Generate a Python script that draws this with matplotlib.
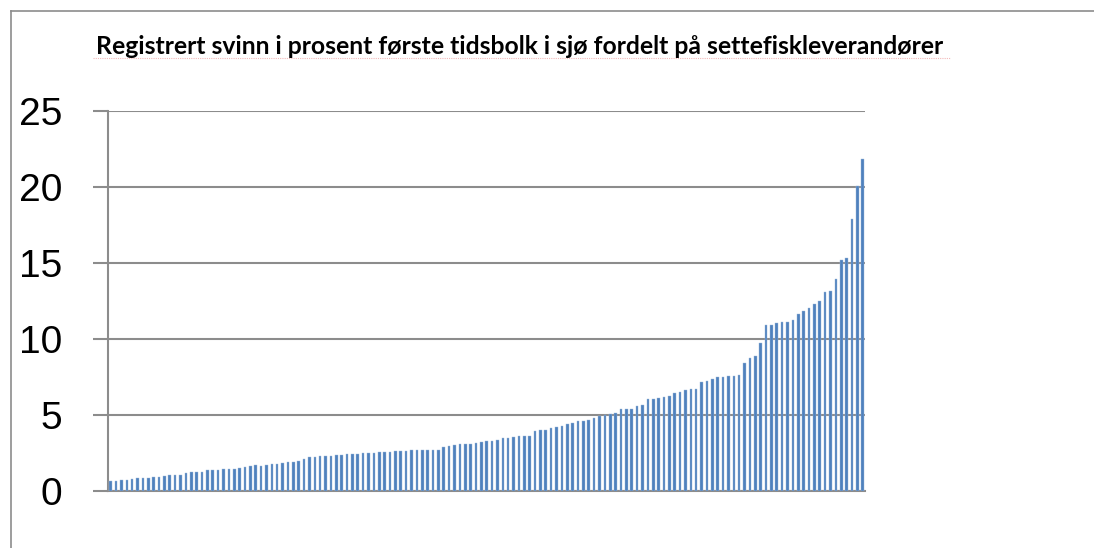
"""Registrert svinn (prosent) første tidsbolk i sjø, per settefiskleverandør.

Excel-style column chart: one thin bar per supplier, sorted ascending.
"""
import matplotlib
matplotlib.use("Agg")
import matplotlib.pyplot as plt
from matplotlib.lines import Line2D
import numpy as np

TITLE = "Registrert svinn i prosent første tidsbolk i sjø fordelt på settefiskleverandører"

# svinn i prosent, one value per supplier (sorted)
svinn_pct = [
    0.64, 0.64, 0.68, 0.70, 0.77, 0.81, 0.81, 0.86, 0.88, 0.90,
    0.94, 1.01, 1.03, 1.05, 1.14, 1.21, 1.23, 1.23, 1.34, 1.36,
    1.36, 1.40, 1.43, 1.45, 1.49, 1.54, 1.60, 1.67, 1.64, 1.69,
    1.73, 1.75, 1.82, 1.89, 1.89, 1.94, 2.10, 2.19, 2.21, 2.26,
    2.28, 2.28, 2.32, 2.37, 2.41, 2.41, 2.41, 2.46, 2.48, 2.50,
    2.52, 2.54, 2.54, 2.59, 2.59, 2.61, 2.65, 2.65, 2.65, 2.68,
    2.68, 2.68, 2.85, 2.94, 3.00, 3.07, 3.07, 3.09, 3.14, 3.20,
    3.24, 3.27, 3.36, 3.44, 3.49, 3.53, 3.57, 3.57, 3.62, 3.90,
    4.01, 4.01, 4.12, 4.19, 4.23, 4.41, 4.45, 4.56, 4.56, 4.67,
    4.80, 4.93, 4.98, 5.07, 5.11, 5.35, 5.39, 5.39, 5.55, 5.61,
    6.01, 6.07, 6.12, 6.14, 6.23, 6.40, 6.51, 6.60, 6.67, 6.67,
    7.17, 7.21, 7.37, 7.48, 7.50, 7.54, 7.57, 7.63, 8.38, 8.75,
    8.84, 9.71, 10.90, 10.90, 11.07, 11.14, 11.14, 11.23, 11.62, 11.84,
    12.00, 12.32, 12.50, 13.05, 13.18, 13.93, 15.18, 15.29, 17.92, 20.05,
    21.86,
]
y_ticks = [0, 5, 10, 15, 20, 25]

BAR_COLOR = "#4F81BD"
GRID_COLOR = "#8c8c8c"

W, H = 1094, 548
fig = plt.figure(figsize=(W / 100, H / 100), dpi=100)
fig.patch.set_facecolor("white")

# plot area in pixel coordinates of the original (x 108..865, y 111..491)
ax = fig.add_axes([108 / W, 1 - 490.7 / H, 757.4 / W, 379.7 / H])

positions = np.arange(len(svinn_pct))
ax.bar(positions, svinn_pct, width=0.48, color=BAR_COLOR,
       edgecolor="#9bb7da", linewidth=0.3, zorder=3)

ax.set_xlim(-0.5, len(svinn_pct) - 0.5)
ax.set_ylim(0, 25)
ax.set_xticks([])
ax.set_yticks(y_ticks)
ax.set_yticklabels([str(t) for t in y_ticks], family="Liberation Sans", fontsize=28)
ax.tick_params(axis="y", direction="out", length=10.8, width=1.5,
               color=GRID_COLOR, pad=22)

ax.grid(axis="y", color=GRID_COLOR, linewidth=1.5, zorder=1)
for side in ("top", "right"):
    ax.spines[side].set_visible(False)
ax.spines["left"].set_color(GRID_COLOR)
ax.spines["left"].set_linewidth(1.5)
ax.spines["bottom"].set_color(GRID_COLOR)
ax.spines["bottom"].set_linewidth(1.5)

# title sits above the plot area, bold; scaled so it spans x 93..947 like the original
title = fig.text(520 / W, 1 - 46 / H, TITLE, ha="center", va="center",
                 family="Lato", fontweight="bold", fontsize=16)
renderer = fig.canvas.get_renderer()
tw = title.get_window_extent(renderer).width
title.set_fontsize(16 * 854 / tw)

# faint spell-check underline under the title
fig.add_artist(Line2D([93 / W, 950 / W], [1 - 58 / H, 1 - 58 / H],
                      color="#f2b8b8", linewidth=0.8, linestyle=(0, (1, 1))))

# chart frame: left and top edges only are visible in the crop
fig.add_artist(Line2D([11 / W, 11 / W], [0, 1 - 11 / H], color=GRID_COLOR, linewidth=1.2))
fig.add_artist(Line2D([11 / W, 1], [1 - 11 / H, 1 - 11 / H], color=GRID_COLOR, linewidth=1.2))

fig.savefig("out.png", dpi=100)
